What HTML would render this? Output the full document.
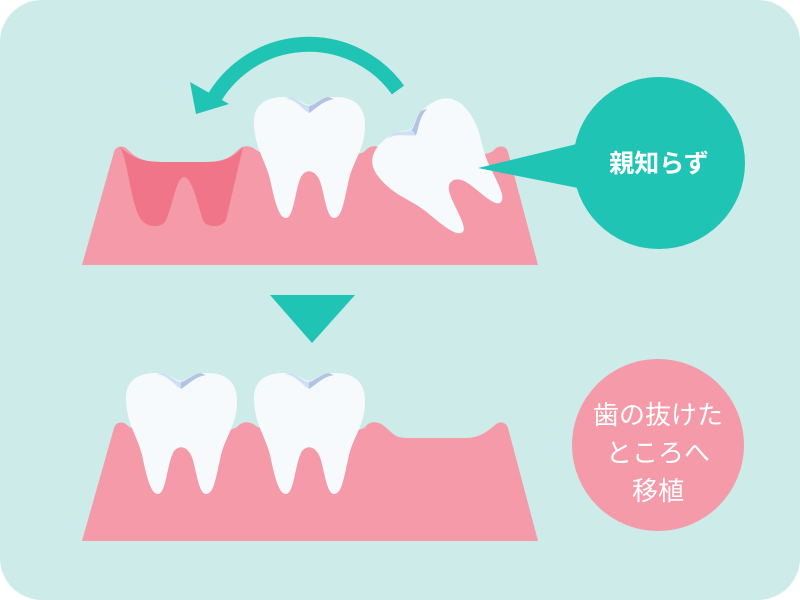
<!DOCTYPE html>
<html><head><meta charset="utf-8"><style>
html,body{margin:0;padding:0;background:#fff;}
svg{display:block;}
</style></head><body>
<svg width="800" height="600" viewBox="0 0 800 600" xmlns="http://www.w3.org/2000/svg">
<defs>
<g id="tooth">
<path d="M0,25 C0,6 14,0 30,0 C45,0 50,8 55,8 C60,8 66,0 81,0 C99,0 111,8 111,28 C111,52 100,62 95,82 C90,104 88,121 80,121 C72,121 70,92 65,82 C60,72 51,72 47,80 C41,92 40,121 32,121 C24,121 20,100 16,82 C11,62 0,50 0,25 Z" fill="#f6fafd"/>
<path d="M30,1 C42,2 48,12 55,16 L55,9 C49,8 44,2 38,0 Z" fill="#cfe0f4"/>
<path d="M55,16 C62,12 68,4 80,2 L74,0 C66,2 60,8 55,9 Z" fill="#b3c3e3"/>
</g>
</defs>
<rect x="0" y="0" width="800" height="600" rx="42" fill="#cdebe8"/>
<path d="M82,265 L114,152 C116,145 124,145 128,150 C140,162 150,162 170,162 L200,162 C220,162 228,160 238,150 C243,145 250,145 256,150 C270,160 362,160 366,150 C370,145 378,145 384,150 C396,160 488,160 494,150 C498,145 506,145 508,152 L538,265 Z" fill="#f49aa8"/>
<path d="M120,147 C135,160 145,162 165,162 L210,162 C225,162 235,156 243,147 L226,220 C223,228 205,228 203,220 C198,205 192,177 184,177 C176,177 172,210 165,222 C160,228 146,228 140,218 C130,200 128,160 120,147 Z" fill="#f07588"/>
<use href="#tooth" transform="translate(254,97)"/>
<use href="#tooth" transform="translate(443,170) rotate(-38) translate(-55,-60)"/>
<polygon points="478,168 585,142 588,190" fill="#1fc4b4"/>
<circle cx="659" cy="163" r="86" fill="#1fc4b4"/>
<text x="659" y="172" text-anchor="middle" font-family="'Liberation Sans','Noto Sans CJK JP',sans-serif" font-size="25" font-weight="bold" fill="#fff">親知らず</text>
<path d="M398,90 A110,110 0 0 0 212,102" fill="none" stroke="#1fc4b4" stroke-width="15"/>
<polygon points="190,82 196,114 229,104" fill="#1fc4b4"/>
<polygon points="270,295 355,295 312,343" fill="#1fc4b4"/>
<path d="M82,541 L114,428 C116,421 124,421 128,426 C140,436 232,436 238,426 C243,421 250,421 256,426 C270,436 362,436 366,426 C370,421 378,421 384,426 C396,436 395,438 410,438 L465,438 C480,438 486,432 494,426 C498,421 506,421 508,428 L538,541 Z" fill="#f49aa8"/>
<use href="#tooth" transform="translate(126,373)"/>
<use href="#tooth" transform="translate(254,373)"/>
<circle cx="658" cy="445" r="86" fill="#f49aa8"/>
<g font-family="'Liberation Sans','Noto Sans CJK JP',sans-serif" font-size="26" fill="#fff" text-anchor="middle">
<text x="658" y="424">歯の抜けた</text>
<text x="658" y="462">ところへ</text>
<text x="658" y="500">移植</text>
</g>
</svg>
</body></html>
